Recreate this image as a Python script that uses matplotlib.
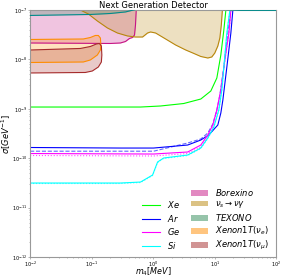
import numpy as np
import matplotlib
matplotlib.use("Agg")
import matplotlib.pyplot as plt
from matplotlib.patches import Patch

# log10(m4 / MeV) and log10(sigma / GeV^-1)
xe_lm = [-2.0, -0.204, 0.122, 0.498, 0.776, 0.939, 1.037, 1.102, 1.151, 1.184, 1.200]
xe_ls = [-8.964, -8.964, -8.943, -8.893, -8.802, -8.640, -8.377, -7.911, -7.405, -7.0, -6.798]

ar_lm = [-2.0, -0.531, 0.008, 0.563, 0.776, 0.906, 1.053, 1.102, 1.135, 1.200, 1.265, 1.298, 1.314]
ar_ls = [-9.783, -9.794, -9.794, -9.733, -9.632, -9.530, -9.328, -9.085, -8.822, -8.154, -7.466, -7.0, -6.798]
ar2_lm = [-2.0, 0.008, 0.563, 0.776, 0.890, 0.971, 1.037, 1.086, 1.151, 1.216, 1.265, 1.282]
ar2_ls = [-9.858, -9.858, -9.692, -9.611, -9.490, -9.308, -9.024, -8.721, -8.154, -7.466, -7.0, -6.798]

ge_lm = [-2.0, 0.008, 0.563, 0.776, 0.890, 0.971, 1.037, 1.102, 1.167, 1.233, 1.265, 1.282]
ge_ls = [-9.905, -9.915, -9.874, -9.733, -9.530, -9.328, -9.024, -8.619, -8.012, -7.466, -7.0, -6.798]
ge2_ls = [-9.945, -9.955, -9.905, -9.773, -9.571, -9.368, -9.045, -8.640, -8.032, -7.486, -7.020, -6.798]

si_lm = [-2.0, -0.531, -0.204, -0.008, 0.073, 0.171, 0.563, 0.776, 0.890, 0.988, 1.069, 1.118, 1.151, 1.200, 1.249, 1.265]
si_ls = [-10.502, -10.502, -10.482, -10.340, -10.077, -9.996, -9.935, -9.794, -9.591, -9.368, -9.024, -8.619, -8.154, -7.466, -7.0, -6.798]
si2_ls = [-10.512, -10.512, -10.492, -10.350, -10.087, -10.006, -9.945, -9.804, -9.601, -9.378, -9.034, -8.629, -8.164, -7.476, -7.01, -6.798]

borex_lm = [-2.0, -0.694, -0.531, -0.449, -0.384, -0.335, -0.302, -0.286, -0.278, -0.269, -0.261]
borex_ls = [-7.668, -7.678, -7.668, -7.638, -7.577, -7.557, -7.506, -7.304, -7.101, -6.899, -6.798]

decay_lm = [-1.478, -1.347, -1.184, -1.053, -0.906, -0.743, -0.580, -0.416, -0.286, -0.171, -0.090,
            -0.041, 0.041, 0.204, 0.367, 0.531, 0.645, 0.776, 0.890, 0.955, 1.004, 1.053, 1.086,
            1.110, 1.127, 1.135]
decay_ls = [-6.798, -6.899, -7.0, -7.081, -7.223, -7.364, -7.466, -7.526, -7.547, -7.547, -7.466,
            -7.445, -7.466, -7.587, -7.709, -7.810, -7.870, -7.941, -7.972, -7.951, -7.870, -7.729,
            -7.567, -7.304, -7.0, -6.798]

texono_lm = [-2.0, -1.510, -1.020, -0.694, -0.449, -0.253, -0.041, 0.286, 0.776, 1.135, 1.429, 2.0]
texono_ls = [-7.111, -7.101, -7.091, -7.071, -7.040, -6.980, -6.919, -6.879, -6.899, -6.990, -7.008, -7.008]

xe_nue_lm = [-2.0, -1.135, -1.020, -0.939, -0.890, -0.857, -0.849, -0.857, -0.906, -1.020, -1.135, -2.0]
xe_nue_ls = [-7.597, -7.587, -7.557, -7.516, -7.516, -7.567, -7.709, -7.810, -7.911, -8.012, -8.053, -8.063]

xe_num_lm = [-2.0, -1.184, -1.020, -0.922, -0.873, -0.841, -0.833, -0.841, -0.890, -0.988, -1.102, -2.0]
xe_num_ls = [-7.810, -7.779, -7.739, -7.688, -7.678, -7.729, -7.911, -8.053, -8.154, -8.235, -8.265, -8.275]

def p(a):
    return 10.0 ** np.array(a)

fig = plt.figure(figsize=(2.84, 2.77), dpi=100)
ax = fig.add_axes([0.106, 0.072, 0.866, 0.892])

al = 0.25
ax.fill_between(p(borex_lm), p(borex_ls), 1e-6, color="mediumvioletred", alpha=al, lw=0)
ax.plot(p(borex_lm), p(borex_ls), color="mediumvioletred", lw=0.8)
ax.fill_between(p(decay_lm), p(decay_ls), 1e-6, color="darkgoldenrod", alpha=al, lw=0)
ax.plot(p(decay_lm), p(decay_ls), color="darkgoldenrod", lw=0.8)
ax.fill_between(p(texono_lm), p(texono_ls), 1e-6, color="seagreen", alpha=al, lw=0)
ax.plot(p(texono_lm), p(texono_ls), color="darkcyan", lw=0.8, zorder=3)
ax.fill(p(xe_nue_lm), p(xe_nue_ls), facecolor="darkorange", alpha=al, lw=0)
ax.plot(p(xe_nue_lm), p(xe_nue_ls), color="darkorange", lw=0.8)
ax.fill(p(xe_num_lm), p(xe_num_ls), facecolor="brown", alpha=al, lw=0)
ax.plot(p(xe_num_lm), p(xe_num_ls), color="brown", lw=0.8)

l1, = ax.plot(p(xe_lm), p(xe_ls), color="lime", lw=0.8)
l2, = ax.plot(p(ar_lm), p(ar_ls), color="blue", lw=0.8)
ax.plot(p(ar2_lm), p(ar2_ls), color="blue", lw=0.8, ls="--", alpha=0.6)
l3, = ax.plot(p(ge_lm), p(ge_ls), color="magenta", lw=0.8)
ax.plot(p(ge_lm), p(ge2_ls), color="magenta", lw=0.8, ls=":", alpha=0.7)
l4, = ax.plot(p(si_lm), p(si_ls), color="cyan", lw=0.8)
ax.plot(p(si_lm), p(si2_ls), color="cyan", lw=0.8, ls=":", alpha=0.7)

ax.set_xscale("log")
ax.set_yscale("log")
ax.set_xlim(1e-2, 1e2)
ax.set_ylim(1e-12, 1e-7)
ax.set_title("Next Generation Detector", fontsize=6, pad=1)
ax.set_xlabel(r"$m_4[MeV]$", fontsize=5.8)
ax.set_ylabel(r"$\sigma[GeV^{-1}]$", fontsize=6)
ax.xaxis.set_label_coords(0.5, -0.033)
ax.yaxis.set_label_coords(-0.068, 0.5)
ax.tick_params(which="both", labelsize=3.5, length=1.5, width=0.4, pad=0.5, color="0.5")
ax.tick_params(which="minor", length=1)
for s in ax.spines.values():
    s.set_color("0.6")
    s.set_linewidth(0.8)

leg1 = ax.legend([l1, l2, l3, l4], [r"$Xe$", r"$Ar$", r"$Ge$", r"$Si$"],
                 loc="lower right", bbox_to_anchor=(0.64, -0.005), frameon=False,
                 fontsize=6, handlelength=2.2, handletextpad=0.8, labelspacing=0.3)
ax.add_artist(leg1)
patches = [Patch(color="mediumvioletred", alpha=0.5, lw=0),
           Patch(color="darkgoldenrod", alpha=0.5, lw=0),
           Patch(color="seagreen", alpha=0.5, lw=0),
           Patch(color="darkorange", alpha=0.5, lw=0),
           Patch(color="brown", alpha=0.5, lw=0)]
ax.legend(patches, [r"$Borexino$", r"$\nu_s \to \nu\gamma$", r"$TEXONO$",
                    r"$Xenon1T(\nu_e)$", r"$Xenon1T(\nu_\mu)$"],
          loc="lower right", bbox_to_anchor=(1.0, -0.01), frameon=False,
          fontsize=6, handlelength=2.0, handletextpad=0.8, labelspacing=0.2)

fig.savefig("out.png", dpi=100)
